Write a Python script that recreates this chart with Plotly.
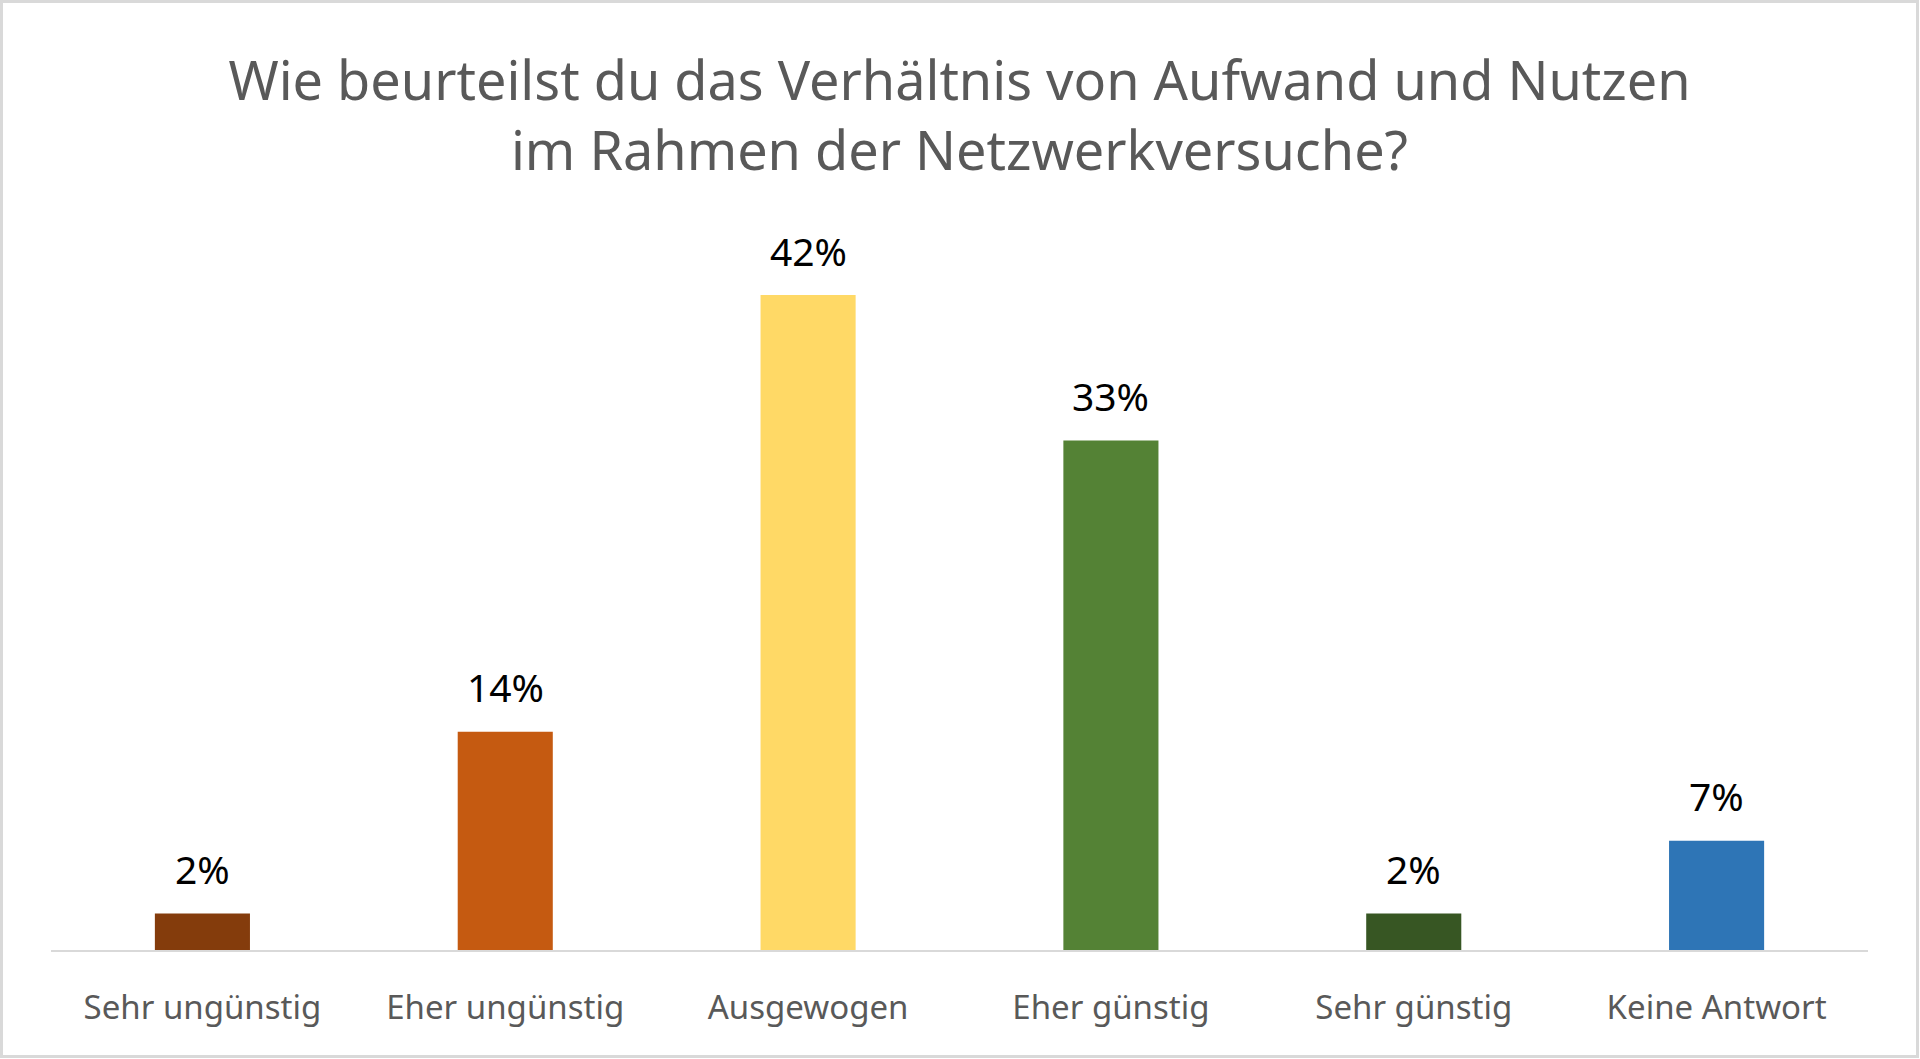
import plotly.graph_objects as go

categories = ["Sehr ungünstig", "Eher ungünstig", "Ausgewogen", "Eher günstig", "Sehr günstig", "Keine Antwort"]
values = [2.33, 13.95, 41.86, 32.56, 2.33, 6.98]
labels = ["2%", "14%", "42%", "33%", "2%", "7%"]
colors = ["#843C0C", "#C55A11", "#FFD966", "#548235", "#375623", "#2E75B6"]
title_text = "Wie beurteilst du das Verhältnis von Aufwand und Nutzen<br>im Rahmen der Netzwerkversuche?"

W, H = 1920, 1059
ML, MR, MT, MB = 51, 52, 246, 109
FONT = "Segoe UI, Noto Sans, Open Sans, sans-serif"

fig = go.Figure()
fig.add_trace(go.Bar(
    x=categories, y=values, marker=dict(color=colors, line=dict(width=0)),
    hoverinfo="skip", showlegend=False,
))

for c, v, t in zip(categories, values, labels):
    fig.add_annotation(x=c, y=v, text=t, showarrow=False, xanchor="center", yanchor="middle",
                       yshift=45, font=dict(family=FONT, size=39, color="#000000"))

pw = W - ML - MR
ph = H - MT - MB
fig.add_shape(type="rect", xref="paper", yref="paper",
              x0=-(ML - 1.5) / pw, x1=1 + (MR - 2.5) / pw,
              y0=-(MB - 2.5) / ph, y1=1 + (MT - 1.5) / ph,
              line=dict(color="#D9D9D9", width=3), fillcolor="rgba(0,0,0,0)", layer="above")

fig.update_layout(
    width=W, height=H, autosize=False,
    margin=dict(l=ML, r=MR, t=MT, b=MB, pad=0),
    paper_bgcolor="white", plot_bgcolor="white",
    bargap=0.686,
    title=dict(text=title_text, x=0.5, xref="paper", xanchor="center",
               y=1 - 100 / H, yref="container", yanchor="top",
               font=dict(family=FONT, size=54, color="#595959")),
    xaxis=dict(showline=True, linecolor="#D9D9D9", linewidth=2, showgrid=False, zeroline=False,
               ticks="outside", ticklen=27, tickcolor="rgba(0,0,0,0)",
               tickfont=dict(family=FONT, size=33, color="#595959")),
    yaxis=dict(range=[0, 45], visible=False, showgrid=False, zeroline=False),
)

fig.write_html("out.html")
